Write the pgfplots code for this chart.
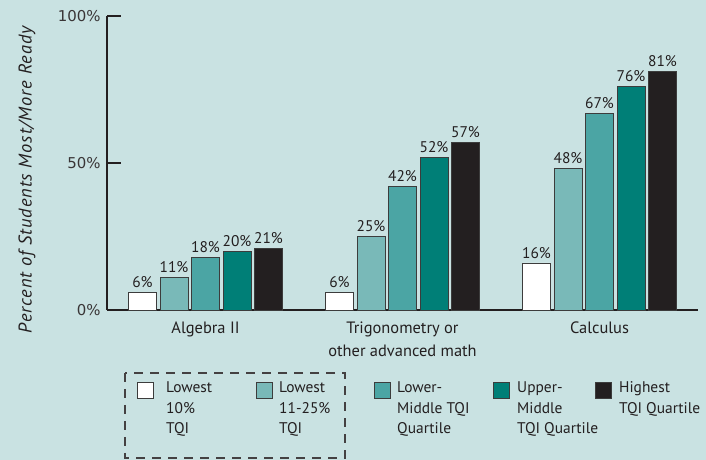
\documentclass[border=0pt]{standalone}
\usepackage{fontspec}
\setmainfont{PT Sans}
\newfontfamily\tickfont{DejaVu Sans}
\newfontfamily\ylabfont{PT Sans Italic}[LetterSpace=5]
\usepackage{pgfplots}
\pgfplotsset{compat=1.18}
\definecolor{bg}{RGB}{201,226,226}
\definecolor{ink}{RGB}{35,31,32}
\definecolor{edge}{RGB}{60,60,60}
\definecolor{cA}{RGB}{255,255,255}
\definecolor{cB}{RGB}{121,185,184}
\definecolor{cC}{RGB}{75,165,164}
\definecolor{cD}{RGB}{0,127,119}
\definecolor{cE}{RGB}{35,31,32}
\begin{document}
\begin{tikzpicture}[x=1bp,y=1bp]
\fill[bg] (0,0) rectangle (706,460);
\begin{axis}[at={(107bp,150bp)}, anchor=south west,
  x=197bp, y=2.94bp, xmin=-0.5, xmax=2.5, ymin=0, ymax=100, clip=false,
  /pgf/number format/assume math mode=true,
  axis x line*=bottom, axis y line*=left,
  axis line style={line width=2bp, color=ink},
  ytick={0,50,100}, yticklabels={0\%,50\%,100\%},
  ytick style={line width=2bp, color=ink},
  tick align=inside, major tick length=14bp,
  yticklabel style={font=\tickfont\fontsize{15}{17}\selectfont, text=ink!90, xshift=-3bp},
  xtick={0,1,2}, xticklabels={Algebra II,{Trigonometry or\\other advanced math},Calculus},
  xtick style={draw=none},
  xticklabel style={align=center, font=\fontsize{16.5}{23}\selectfont, text=ink, yshift=6bp},
  ybar=3.5bp, bar width=28bp,
  nodes near coords={\pgfmathprintnumber{\pgfplotspointmeta}\%},
  nodes near coords style={font=\fontsize{15.5}{17}\selectfont, text=ink, yshift=1bp},
  every axis plot/.append style={draw=edge, line width=0.8bp},
]
\addplot[fill=cA] coordinates {(0,6) (1,6) (2,16)};
\addplot[fill=cB] coordinates {(0,11) (1,25) (2,48)};
\addplot[fill=cC] coordinates {(0,18) (1,42) (2,67)};
\addplot[fill=cD] coordinates {(0,20) (1,52) (2,76)};
\addplot[fill=cE] coordinates {(0,21) (1,57) (2,81)};
\end{axis}
\node[rotate=90, font=\ylabfont\fontsize{18.5}{20}\selectfont, text=ink] at (27,280) {Percent of Students Most/More Ready};
% legend
\draw[ink!85, line width=1.5bp, dash pattern=on 9bp off 7bp] (125,87) rectangle (345,2);
\begin{scope}[every node/.style={anchor=base west, inner sep=0pt, text=ink, font=\fontsize{15.5}{18}\selectfont}]
\filldraw[fill=cA, draw=edge, line width=0.8bp] (137,62) rectangle (153,78);
\node at (166,67) {Lowest}; \node at (166,46.5) {10\%}; \node at (166,26) {TQI};
\filldraw[fill=cB, draw=edge, line width=0.8bp] (256,62) rectangle (272,78);
\node at (279,67) {Lowest}; \node at (279,46.5) {11-25\%}; \node at (279,26) {TQI};
\filldraw[fill=cC, draw=edge, line width=0.8bp] (374,62) rectangle (390,78);
\node at (397,67) {Lower-}; \node at (397,46.5) {Middle TQI}; \node at (397,26) {Quartile};
\filldraw[fill=cD, draw=edge, line width=0.8bp] (493,62) rectangle (509,78);
\node at (517,67) {Upper-}; \node at (517,46.5) {Middle}; \node at (517,26) {TQI Quartile};
\filldraw[fill=cE, draw=edge, line width=0.8bp] (595,62) rectangle (611,78);
\node at (619,67) {Highest}; \node at (619,46.5) {TQI Quartile};
\end{scope}
\end{tikzpicture}
\end{document}
